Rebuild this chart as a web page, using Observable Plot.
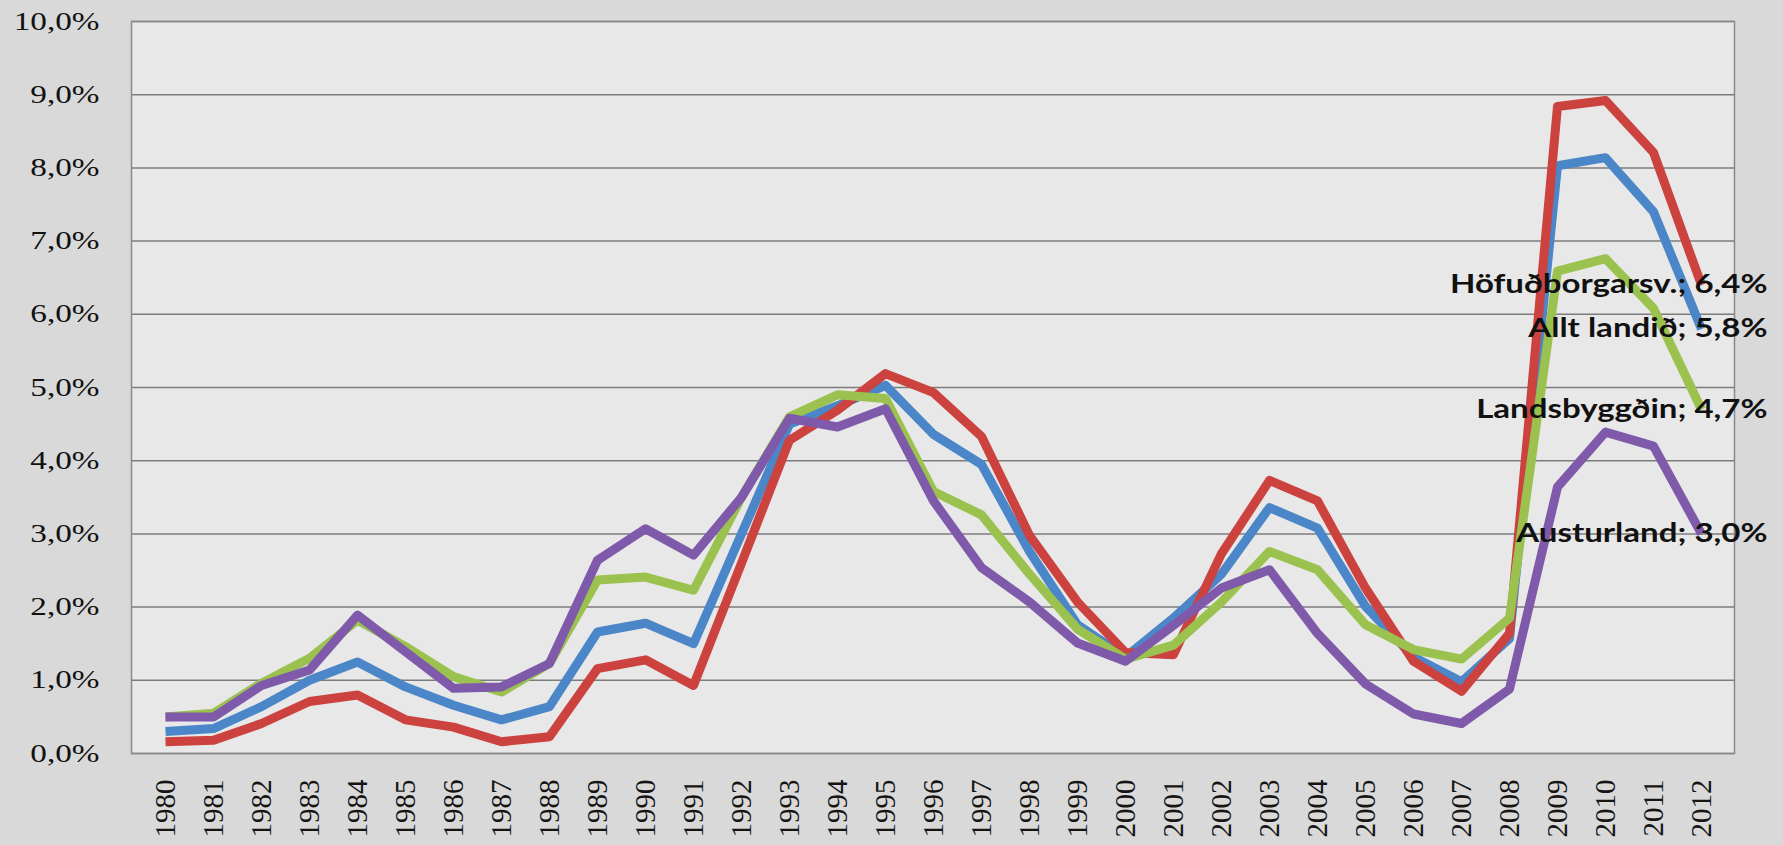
<!DOCTYPE html>
<html><head><meta charset="utf-8">
<script src="https://cdn.jsdelivr.net/npm/d3@7"></script>
<script src="https://cdn.jsdelivr.net/npm/@observablehq/plot@0.6"></script>
<style>
html,body{margin:0;padding:0;background:#d9d9d9;overflow:hidden;}
#chart svg{display:block;}
</style></head><body><div id="chart"></div>
<script>
const years = [1980,1981,1982,1983,1984,1985,1986,1987,1988,1989,1990,1991,1992,1993,1994,1995,1996,1997,1998,1999,2000,2001,2002,2003,2004,2005,2006,2007,2008,2009,2010,2011,2012];
const seriesNames = ["Allt landið","Höfuðborgarsv.","Landsbyggðin","Austurland"];
const seriesColors = ["#4a86c8","#cc423e","#9bc24f","#7f5aaa"];
const alltLandid   = [0.30,0.34,0.64,1.00,1.25,0.91,0.66,0.46,0.64,1.66,1.78,1.50,3.00,4.50,4.75,5.03,4.36,3.95,2.76,1.76,1.32,1.85,2.45,3.36,3.08,2.01,1.32,0.98,1.57,8.03,8.14,7.40,5.8];
const hofudborgar  = [0.16,0.18,0.41,0.71,0.80,0.46,0.36,0.16,0.23,1.16,1.28,0.93,2.60,4.28,4.69,5.19,4.93,4.33,2.98,2.07,1.38,1.35,2.73,3.73,3.45,2.26,1.26,0.85,1.64,8.84,8.92,8.21,6.4];
const landsbyggdin = [0.50,0.55,0.96,1.30,1.82,1.46,1.05,0.84,1.23,2.37,2.41,2.23,3.50,4.60,4.90,4.85,3.58,3.26,2.45,1.70,1.29,1.48,2.07,2.76,2.51,1.76,1.42,1.29,1.85,6.59,6.76,6.08,4.7];
const austurland   = [0.50,0.50,0.93,1.14,1.89,1.39,0.89,0.91,1.23,2.64,3.07,2.71,3.50,4.58,4.46,4.71,3.45,2.54,2.07,1.51,1.26,1.75,2.26,2.51,1.64,0.95,0.54,0.41,0.88,3.64,4.39,4.20,3.0];
const yTicks = [0,1,2,3,4,5,6,7,8,9,10];
const labelOrder = ["Höfuðborgarsv.","Allt landið","Landsbyggðin","Austurland"];

const seriesValues = [alltLandid, hofudborgar, landsbyggdin, austurland];
const fmt = v => v.toFixed(1).replace(".", ",") + "%";

const rows = [];
seriesNames.forEach((name, k) => seriesValues[k].forEach((v, i) => rows.push({year: years[i], value: v, series: name})));

const lastYear = years[years.length - 1];
const endLabels = labelOrder.map(name => {
  const vals = seriesValues[seriesNames.indexOf(name)];
  const v = vals[vals.length - 1];
  return {year: lastYear, value: v, label: name + "; " + fmt(v)};
});

const plot = Plot.plot({
  width: 1783, height: 845,
  marginLeft: 131, marginRight: 49, marginTop: 21, marginBottom: 92,
  style: {background: "transparent", overflow: "visible"},
  x: {type: "point", domain: years, padding: 0.5, label: null},
  y: {domain: [0, 10], label: null},
  color: {domain: seriesNames, range: seriesColors},
  marks: [
    Plot.frame({fill: "#e8e8e8", stroke: "none"}),
    Plot.ruleY(yTicks, {stroke: "#7c7c7c", strokeWidth: 1.5}),
    Plot.frame({stroke: "#8a8a8a", strokeWidth: 1.5}),
    Plot.axisY(yTicks, {tickSize: 0, tickPadding: 32, tickFormat: fmt, fontSize: 25, fontFamily: "Liberation Serif", fill: "#111", stroke: "#111", strokeWidth: 0.3, label: null}),
    Plot.axisX(years, {tickSize: 0, tickPadding: 26, tickRotate: -90, tickFormat: d => String(d), fontSize: 29, fontFamily: "Liberation Serif", fill: "#151515", label: null}),
    Plot.lineY(rows, {x: "year", y: "value", stroke: "series", strokeWidth: 9, strokeLinejoin: "round", strokeLinecap: "butt"}),
    Plot.text(endLabels, {x: "year", y: "value", text: "label", textAnchor: "end", dx: 66, fontSize: 26, fontFamily: "Lato", fontWeight: "bold", fill: "#111"})
  ]
});
document.getElementById("chart").appendChild(plot);

// horizontally stretched lettering, as in the original
function stretch(selector, factor) {
  plot.querySelectorAll(selector).forEach(t => {
    const l = t.getComputedTextLength();
    t.setAttribute("textLength", l * factor);
    t.setAttribute("lengthAdjust", "spacingAndGlyphs");
  });
}
stretch('g[aria-label="y-axis tick label"] text', 1.33);
stretch('g[aria-label="text"] text', 1.27);
</script></body></html>
